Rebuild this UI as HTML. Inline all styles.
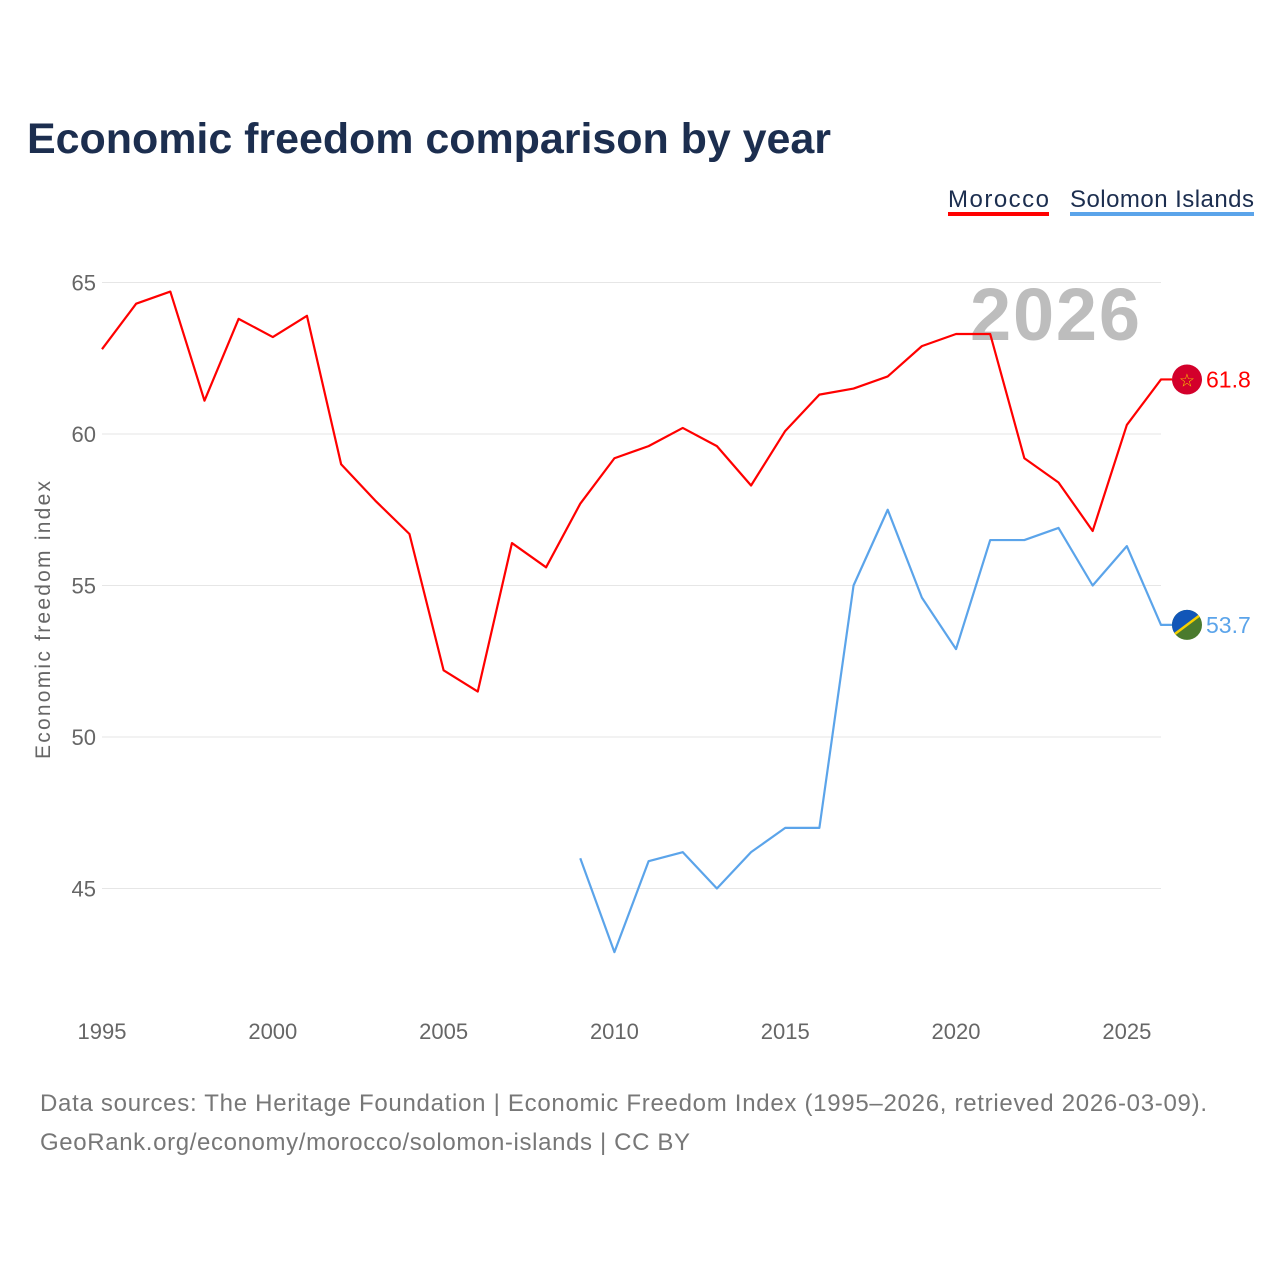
<!DOCTYPE html>
<html><head><meta charset="utf-8"><style>
body{margin:0;background:#fff;font-family:"Liberation Sans",sans-serif}
svg text{font-family:"Liberation Sans",sans-serif}
</style></head><body>
<svg id="chart" width="1280" height="1280" viewBox="0 0 1280 1280">
<text x="27" y="153" font-size="43" font-weight="bold" fill="#1c2e4f" textLength="804">Economic freedom comparison by year</text>
<g><text x="948" y="207" font-size="24" fill="#1c2e4f" textLength="101">Morocco</text><rect x="948" y="212" width="101" height="4" fill="#f00"/></g>
<g><text x="1070" y="207" font-size="24" fill="#1c2e4f" textLength="184">Solomon Islands</text><rect x="1070" y="212" width="184" height="4" fill="#5ba4ea"/></g>
<text x="970" y="340" font-size="74" font-weight="bold" fill="#bdbdbd" textLength="170">2026</text>
<text transform="translate(50,620) rotate(-90)" font-size="21" fill="#666" text-anchor="middle" textLength="278">Economic freedom index</text>
<g id="grid"></g><g id="xt"></g><g id="lines"></g>
<text x="40" y="1111" font-size="24" fill="#777" textLength="1167">Data sources: The Heritage Foundation | Economic Freedom Index (1995–2026, retrieved 2026-03-09).</text>
<text x="40" y="1150" font-size="24" fill="#777" textLength="650">GeoRank.org/economy/morocco/solomon-islands | CC BY</text>
</svg>
<script>
const years=[1995,1996,1997,1998,1999,2000,2001,2002,2003,2004,2005,2006,2007,2008,2009,2010,2011,2012,2013,2014,2015,2016,2017,2018,2019,2020,2021,2022,2023,2024,2025,2026];
const morocco=[62.8,64.3,64.7,61.1,63.8,63.2,63.9,59.0,57.8,56.7,52.2,51.5,56.4,55.6,57.7,59.2,59.6,60.2,59.6,58.3,60.1,61.3,61.5,61.9,62.9,63.3,63.3,59.2,58.4,56.8,60.3,61.8];
const solomonYears=[2009,2010,2011,2012,2013,2014,2015,2016,2017,2018,2019,2020,2021,2022,2023,2024,2025,2026];
const solomon=[46.0,42.9,45.9,46.2,45.0,46.2,47.0,47.0,55.0,57.5,54.6,52.9,56.5,56.5,56.9,55.0,56.3,53.7];
const yTicks=[45,50,55,60,65];
const xTicks=[1995,2000,2005,2010,2015,2020,2025];
const NS="http://www.w3.org/2000/svg";
const X=y=>102+(y-1995)*(1161-102)/31;
const Y=v=>434-(v-60)*30.3;
function mk(t,a,p){const e=document.createElementNS(NS,t);for(const k in a)e.setAttribute(k,a[k]);p.appendChild(e);return e;}
const grid=document.getElementById('grid'),xt=document.getElementById('xt'),lines=document.getElementById('lines');
yTicks.forEach(v=>{
 const l=mk('line',{x1:102,x2:1161,y1:Y(v),y2:Y(v),stroke:'#e6e6e6'},grid);
 
 
 const t=mk('text',{x:96,y:Y(v)+8,'font-size':22,fill:'#666','text-anchor':'end'},grid);t.textContent=v;
 
 
});
xTicks.forEach(v=>{
 const t=mk('text',{x:X(v),y:1039,'font-size':22,fill:'#666','text-anchor':'middle'},xt);t.textContent=v;
 
 
});
function series(xs,vs,color,name){
 const lx=X(xs[xs.length-1]),ly=Y(vs[vs.length-1]);
 const pts=xs.map((y,i)=>X(y)+','+Y(vs[i]));
 pts.push((lx+11)+','+ly);
 const p=mk('polyline',{points:pts.join(' '),fill:'none',stroke:color,'stroke-width':2.2,'stroke-linejoin':'round'},lines);
 
 
 const c=mk('circle',{cx:lx+26,cy:ly,r:15,fill:name=='morocco'?'#d3002b':'#4a7a2e'},lines);
 
 
 if(name=='morocco'){const s=mk('text',{x:lx+26,y:ly+7,'font-size':18,fill:'#f5c400','text-anchor':'middle'},lines);s.textContent='☆';
  
  }
 else{const q=mk('path',{d:`M${lx+14},${ly+9} A15,15 0 0 1 ${lx+38},${ly-9} Z`,fill:'#1156b8'},lines);
  
  
  const d=mk('line',{x1:lx+14,y1:ly+9,x2:lx+38,y2:ly-9,stroke:'#f5d000','stroke-width':2.5},lines);
  
  }
 const t=mk('text',{x:lx+45,y:ly+8,'font-size':23,fill:color},lines);t.textContent=vs[vs.length-1].toFixed(1);
 
 
}
series(years,morocco,'#f00','morocco');
series(solomonYears,solomon,'#5ba4ea','solomon-islands');
</script>
</body></html>
